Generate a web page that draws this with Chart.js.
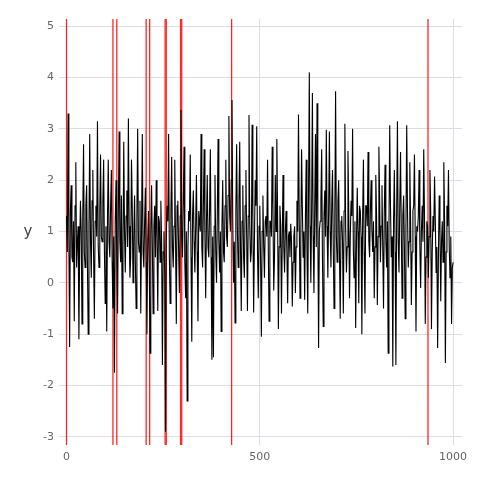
<!DOCTYPE html>
<html>
<head>
<meta charset="utf-8">
<script src="https://cdn.jsdelivr.net/npm/chart.js@4/dist/chart.umd.min.js"></script>
<style>
  html, body { margin: 0; padding: 0; background: #fff; }
  canvas { display: block; }
</style>
</head>
<body>
<canvas id="seriesChart" width="480" height="480"></canvas>
<script>
// series values, at x = 0, 4, 8, ... (peaks and troughs)
const seriesValues = [
    1.3, 3.3, -1.25, 1.9, 0.4, -0.75, 2.35, 0.8, -1.1, 1.6,
    -0.8, 2.7, 0.3, 1.9, -1.0, 2.9, 0.1, 2.2, -0.7, 1.5,
    3.15, 0.3, 2.5, 0.8, 2.4, -0.4, -0.95, 2.4, 0.5, 2.2,
    -0.5, -1.75, 2.0, -0.6, 2.95, 0.4, -0.6, 2.75, 0.2, 1.8,
    3.2, 0.1, 2.4, 0.0, 1.7, -0.5, 3.0, 0.6, -0.6, 2.9,
    0.3, 1.85, -1.0, 1.4, -1.37, 1.9, -0.6, 1.5, 2.0, -0.55,
    1.2, 1.6, -1.6, 1.0, -2.9, 1.5, 2.9, -0.4, 2.45, 0.3,
    2.4, -0.8, 1.6, -0.2, 3.37, 0.5, 2.65, -0.3, -2.3, 1.4,
    2.5, -1.15, 1.8, 0.2, 2.1, -0.75, 1.2, 2.9, 0.3, 2.6,
    -0.3, 2.1, 0.5, 2.6, -1.5, -1.45, 2.1, 0.0, 2.8, 0.2,
    -0.95, 2.0, 0.4, 2.4, 0.7, 3.25, 1.0, 3.56, 0.0, -0.78,
    2.7, 0.3, 2.75, -0.55, 1.9, 0.1, 2.2, -0.55, 3.27, 0.4,
    3.08, -0.58, 2.0, 3.05, -0.3, 1.5, -1.05, 1.7, 0.1, 1.3,
    2.4, -0.75, 1.2, 2.65, -0.15, 2.1, 2.8, -0.9, 1.5, -0.6,
    2.1, 0.2, 1.4, -0.4, 1.0, 1.15, -0.46, 0.9, -0.2, 1.6,
    3.28, -0.3, 2.6, 0.5, -0.33, 2.4, -0.6, 4.1, 0.0, 3.7,
    -0.2, 2.9, 3.5, -1.27, 1.2, 2.6, -0.85, 1.8, 2.98, 0.1,
    2.95, 0.3, 2.2, -0.5, 3.73, 0.4, 2.0, -0.7, 1.3, -0.6,
    3.1, 0.2, 2.57, -0.3, 1.6, 3.0, 0.1, -0.88, 1.85, -0.4,
    1.4, -1.0, 2.4, -0.6, 1.5, 2.55, 0.5, 2.0, 0.6, -0.3,
    2.1, -0.43, 2.65, 0.4, 1.9, -0.5, 2.3, 0.3, -1.37, 3.07,
    0.5, -1.63, 2.2, -1.6, 3.15, 0.2, 2.55, -0.3, 1.7, -0.7,
    3.07, 0.3, 2.35, -0.43, 1.4, 2.5, -0.95, 1.0, 2.2, -0.1,
    1.5, 2.6, -0.8, 1.2, 0.1, 2.2, -0.9, 1.3, 2.07, 0.2,
    -1.27, 1.7, -0.36, 1.2, 2.35, -1.56, 1.5, 2.2, 0.1, -0.8, 0.4
];

// in-between values at x = 2, 6, 10, ... (the dense middle band)
const midValues = [
    0.6, 0.9, 1.4, 0.5, 1.2, 1.5, 0.3, 1.1, 0.7, 1.0,
    1.3, 0.6, 1.5, 0.4, 1.1, 0.8, 1.6, 0.5, 1.2, 0.9,
    0.7, 1.4, 0.9, 1.6, 0.6, 1.1, 1.3, 0.8, 1.5, 0.4,
    0.9, 1.2, 0.5, 1.4, 0.8, 1.7, 0.6, 1.0, 1.3, 0.7,
    1.1, 0.5, 1.5, 0.9, 0.4, 1.3, 0.8, 1.6, 1.0, 0.6,
    1.2, 0.4, 0.8, 0.3, 1.0, 0.7, 1.1, 0.5, 0.9, 1.3,
    0.4, 0.8, 0.6, 0.2, 0.9, 1.2, 0.5, 1.4, 0.7, 1.1,
    0.8, 1.5, 0.6, 1.3, 0.9, 1.6, 0.4, 1.0, 0.7, 1.2,
    0.5, 1.3, 0.8, 1.1, 0.6, 1.4, 1.0, 0.7, 1.5, 0.9,
    1.2, 0.7, 1.4, 0.5, 0.9, 1.1, 0.6, 1.3, 0.8, 1.0,
    1.1, 0.6, 1.5, 0.9, 1.7, 1.3, 2.0, 1.2, 0.8, 1.4,
    1.0, 1.6, 0.7, 1.2, 0.5, 1.5, 0.9, 1.3, 1.1, 0.6,
    1.3, 0.8, 1.5, 0.6, 1.1, 0.4, 1.0, 0.7, 1.2, 0.9,
    0.6, 1.2, 0.9, 1.4, 0.5, 1.0, 1.3, 0.7, 1.1, 0.8,
    0.7, 1.0, 0.6, 0.9, 0.5, 0.8, 0.4, 1.1, 0.7, 1.0,
    1.2, 0.8, 1.5, 1.0, 1.3, 0.6, 1.7, 1.1, 1.4, 0.9,
    1.5, 0.7, 1.2, 1.0, 1.6, 0.5, 1.3, 0.9, 1.1, 1.4,
    1.0, 1.5, 0.7, 1.3, 0.9, 1.6, 0.6, 1.2, 0.8, 1.4,
    1.1, 0.7, 1.4, 0.9, 1.3, 0.6, 1.2, 0.8, 1.0, 1.5,
    0.9, 1.3, 0.6, 1.5, 1.1, 0.8, 1.4, 1.0, 1.2, 0.7,
    1.3, 0.9, 1.6, 1.1, 0.7, 1.4, 0.8, 1.2, 1.0, 1.5,
    0.9, 1.2, 0.6, 1.4, 0.8, 1.5, 1.0, 1.3, 0.7, 1.1,
    1.4, 0.8, 1.2, 0.6, 1.5, 0.9, 1.1, 1.3, 0.7, 1.0,
    0.8, 1.3, 0.5, 1.1, 0.9, 1.4, 0.6, 1.0, 1.2, 0.7,
    0.5, 1.0, 0.8, 0.4, 1.2, 0.6, 1.1, 0.7, 0.9, 0.3
];
const sampleStep = 4;

// detected change points (red verticals)
const changePoints = [0, 120, 130, 206, 215, 255, 258, 295, 298, 427, 935];

const xTicks = [0, 500, 1000];
const yTicks = [-3, -2, -1, 0, 1, 2, 3, 4, 5];

const axisColor = '#666666';
const gridColor = '#dcdce8';

function buildPoints() {
    const pts = [];
    seriesValues.forEach((v, i) => {
        pts.push({ x: i * sampleStep, y: v });
        if (i < midValues.length) {
            pts.push({ x: i * sampleStep + sampleStep / 2, y: midValues[i] });
        }
    });
    return pts;
}

const changePointLines = {
    id: 'changePointLines',
    beforeDatasetsDraw(chart) {
        const { ctx, chartArea, scales } = chart;
        ctx.save();
        ctx.strokeStyle = 'rgba(255, 0, 0, 0.85)';
        ctx.lineWidth = 1.3;
        changePoints.forEach(cp => {
            const px = scales.x.getPixelForValue(cp);
            ctx.beginPath();
            ctx.moveTo(px, chartArea.top);
            ctx.lineTo(px, chartArea.bottom);
            ctx.stroke();
        });
        ctx.restore();
    }
};

// upright "y" label on the left
const yAxisLabel = {
    id: 'yAxisLabel',
    afterDraw(chart) {
        const { ctx, chartArea } = chart;
        ctx.save();
        ctx.fillStyle = '#444444';
        ctx.font = '15px "DejaVu Sans"';
        ctx.textAlign = 'center';
        ctx.textBaseline = 'middle';
        ctx.fillText('y', 28, (chartArea.top + chartArea.bottom) / 2);
        ctx.restore();
    }
};

new Chart(document.getElementById('seriesChart'), {
    type: 'line',
    data: {
        datasets: [{
            data: buildPoints(),
            borderColor: '#000000',
            borderWidth: 1.1,
            pointRadius: 0,
            tension: 0,
            fill: false
        }]
    },
    options: {
        responsive: false,
        animation: false,
        devicePixelRatio: 1,
        layout: { padding: { top: 19, right: 18, left: 0, bottom: 0 } },
        plugins: {
            legend: { display: false },
            tooltip: { enabled: false }
        },
        scales: {
            x: {
                type: 'linear',
                min: -19.5,
                max: 1023,
                afterFit(scale) { scale.height = 35; },
                afterBuildTicks(scale) { scale.ticks = xTicks.map(v => ({ value: v })); },
                border: { display: false },
                grid: { color: gridColor, borderDash: [2, 2], drawTicks: false, lineWidth: 1 },
                ticks: {
                    color: axisColor,
                    font: { family: 'DejaVu Sans', size: 11 },
                    padding: 6,
                    maxRotation: 0,
                    callback: v => String(v)
                }
            },
            y: {
                type: 'linear',
                min: -3.16,
                max: 5.14,
                afterFit(scale) { scale.width = 59; },
                afterBuildTicks(scale) { scale.ticks = yTicks.map(v => ({ value: v })); },
                border: { display: false },
                grid: { color: gridColor, borderDash: [2, 2], drawTicks: false, lineWidth: 1 },
                ticks: {
                    color: axisColor,
                    font: { family: 'DejaVu Sans', size: 11 },
                    padding: 5,
                    callback: v => String(v)
                }
            }
        }
    },
    plugins: [changePointLines, yAxisLabel]
});
</script>
</body>
</html>
